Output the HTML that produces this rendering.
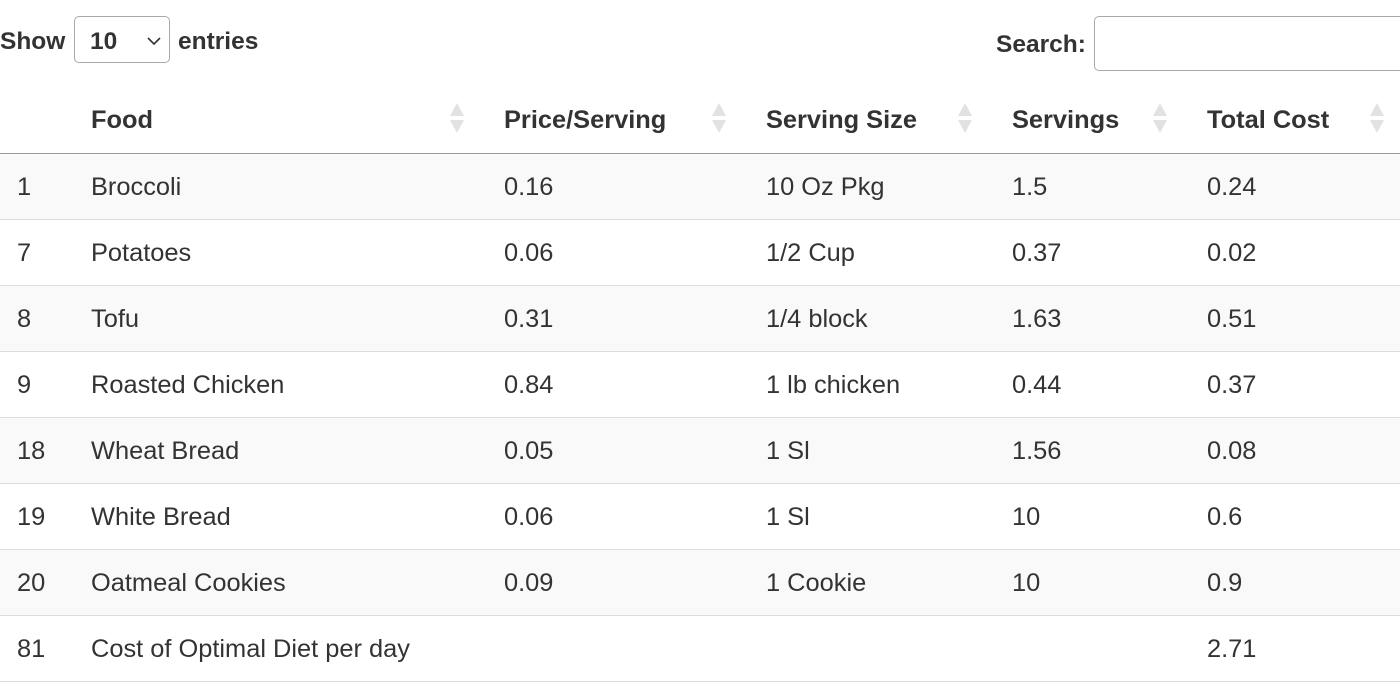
<!DOCTYPE html>
<html><head><meta charset="utf-8"><style>
body{margin:0;width:1400px;height:685px;overflow:hidden;background:#fff;font-family:"Liberation Sans",Arial,sans-serif;color:#333;font-size:25.4px}
.top{position:absolute;font-weight:bold}
#show{left:0;top:28px;font-size:24.5px}
#sel{position:absolute;left:74px;top:16px;width:96px;height:47px;border:1px solid #aaa;border-radius:5px;box-sizing:border-box;font-weight:bold;font-size:24.5px}
#sel span{position:absolute;left:15px;top:11px}
#sel svg{position:absolute;left:72px;top:19px}
#entries{left:178px;top:28px;font-size:24.5px}
#slabel{left:996px;top:31px;font-size:24.5px}
#search{position:absolute;left:1094px;top:16px;width:320px;height:55px;border:1px solid #aaa;border-radius:5px;box-sizing:border-box}
table{position:absolute;left:0;top:87px;border-collapse:collapse;width:1400px;table-layout:fixed}
th{font-weight:bold;text-align:left;height:66px;border-bottom:1px solid #999;padding:2px 0 0 16px;box-sizing:border-box;position:relative}
td{height:66px;border-bottom:1px solid #ddd;padding:3px 0 0 16px;box-sizing:border-box}
tr.odd td{background:#f9f9f9}
th .s{position:absolute;right:24px;top:16px;width:14px;height:32px}
</style></head><body>
<div class="top" id="show">Show</div>
<div id="sel"><span>10</span><svg width="14" height="10"><polyline points="1,2 7,8 13,2" fill="none" stroke="#333" stroke-width="1.6"/></svg></div>
<div class="top" id="entries">entries</div>
<div class="top" id="slabel">Search:</div>
<div id="search"></div>
<table>
<colgroup><col style="width:75px"><col style="width:413px"><col style="width:262px"><col style="width:246px"><col style="width:195px"><col style="width:209px"></colgroup>
<thead><tr>
<th style="padding-left:17px"></th>
<th>Food<svg class="s" viewBox="0 0 14 32"><polygon points="7,0 14,13 0,13" fill="#e2e2e2"/><polygon points="0,17 14,17 7,30" fill="#e2e2e2"/></svg></th>
<th>Price/Serving<svg class="s" viewBox="0 0 14 32"><polygon points="7,0 14,13 0,13" fill="#e2e2e2"/><polygon points="0,17 14,17 7,30" fill="#e2e2e2"/></svg></th>
<th>Serving Size<svg class="s" viewBox="0 0 14 32"><polygon points="7,0 14,13 0,13" fill="#e2e2e2"/><polygon points="0,17 14,17 7,30" fill="#e2e2e2"/></svg></th>
<th>Servings<svg class="s" viewBox="0 0 14 32"><polygon points="7,0 14,13 0,13" fill="#e2e2e2"/><polygon points="0,17 14,17 7,30" fill="#e2e2e2"/></svg></th>
<th>Total Cost<svg class="s" style="right:16px" viewBox="0 0 14 32"><polygon points="7,0 14,13 0,13" fill="#e2e2e2"/><polygon points="0,17 14,17 7,30" fill="#e2e2e2"/></svg></th>
</tr></thead>
<tbody>
<tr class="odd"><td style="padding-left:17px">1</td><td>Broccoli</td><td>0.16</td><td>10 Oz Pkg</td><td>1.5</td><td>0.24</td></tr>
<tr><td style="padding-left:17px">7</td><td>Potatoes</td><td>0.06</td><td>1/2 Cup</td><td>0.37</td><td>0.02</td></tr>
<tr class="odd"><td style="padding-left:17px">8</td><td>Tofu</td><td>0.31</td><td>1/4 block</td><td>1.63</td><td>0.51</td></tr>
<tr><td style="padding-left:17px">9</td><td>Roasted Chicken</td><td>0.84</td><td>1 lb chicken</td><td>0.44</td><td>0.37</td></tr>
<tr class="odd"><td style="padding-left:17px">18</td><td>Wheat Bread</td><td>0.05</td><td>1 Sl</td><td>1.56</td><td>0.08</td></tr>
<tr><td style="padding-left:17px">19</td><td>White Bread</td><td>0.06</td><td>1 Sl</td><td>10</td><td>0.6</td></tr>
<tr class="odd"><td style="padding-left:17px">20</td><td>Oatmeal Cookies</td><td>0.09</td><td>1 Cookie</td><td>10</td><td>0.9</td></tr>
<tr><td style="padding-left:17px">81</td><td>Cost of Optimal Diet per day</td><td></td><td></td><td></td><td>2.71</td></tr>
</tbody></table>
</body></html>
